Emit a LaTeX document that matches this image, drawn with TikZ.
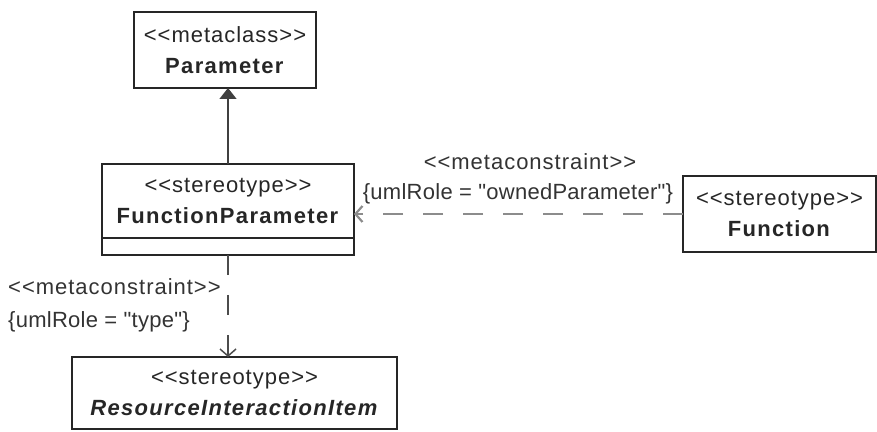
\documentclass[tikz,border=0pt]{standalone}
\usepackage{fontspec}
\setmainfont{Liberation Sans}[Ligatures=TeXOff, LetterSpace=4.5,
  BoldFeatures={LetterSpace=6}, BoldItalicFeatures={LetterSpace=6}]
\usepackage{tikz}
\usetikzlibrary{arrows.meta,positioning}

\begin{document}
\begin{tikzpicture}[x=1pt, y=1pt,
  cls/.style={draw=black!85, line width=1.4pt, align=center, inner sep=0pt,
    outer sep=0pt, font=\fontsize{22}{31}\selectfont, text=black!85},
  gen/.style={-{Triangle[length=11pt, width=17pt]}, line width=1.4pt, draw=black!75},
  dep/.style={-{Straight Barb[length=7pt, width=16pt]}, dash pattern=on 20pt off 20pt},
  lbl/.style={font=\fontsize{22}{24}\selectfont, text=black!80, inner sep=0pt},
  role/.style={lbl, font=\fontsize{22}{24}\selectfont\addfontfeatures{LetterSpace=1.2}},
]
  \useasboundingbox (0,0) rectangle (877,431);

  \node[cls, minimum width=182pt, minimum height=76pt] (par) at (225,381)
    {<<metaclass>>\\\textbf{Parameter}};
  \node[cls, minimum width=252pt, minimum height=74pt] (fp) at (228,230)
    {<<stereotype>>\\\textbf{FunctionParameter}};
  \node[cls, minimum width=252pt, minimum height=17pt, below=0pt of fp] (fpx) {};
  \node[cls, minimum width=193pt, minimum height=76pt] (fn) at (779.5,217)
    {<<stereotype>>\\\textbf{Function}};
  \node[cls, minimum width=325pt, minimum height=72pt] (rii) at (234.5,38)
    {<<stereotype>>\\\textbf{\textit{ResourceInteractionItem}}};

  \draw[gen] (fp.north) -- (fp.north |- par.south);
  \draw[dep, draw=black!45, line width=2.2pt] (fn.west) -- (fn.west -| fp.east);
  \draw[dep, draw=black!70, line width=1.5pt] (fpx.south) -- (fpx.south |- rii.north);

  \node[lbl] (mc1) at (530,269) {<<metaconstraint>>};
  \node[role] (role1) at (518,237) {\{umlRole = "ownedParameter"\}};
  \node[lbl, anchor=west] (mc2) at (8,144) {<<metaconstraint>>};
  \node[role, anchor=west] (role2) at (8,109) {\{umlRole = "type"\}};
\end{tikzpicture}
\end{document}
